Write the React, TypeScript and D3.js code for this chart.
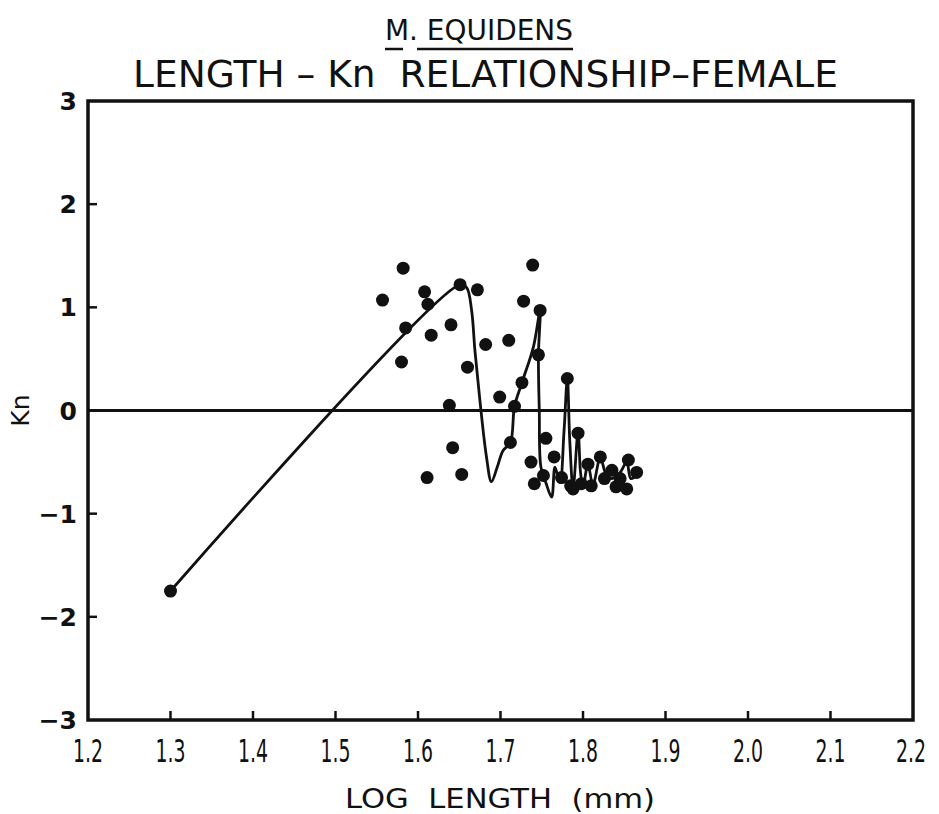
import React from 'react';
import * as d3 from 'd3';

const xTicks = [1.2, 1.3, 1.4, 1.5, 1.6, 1.7, 1.8, 1.9, 2.0, 2.1, 2.2];
const xTickLabels = ['1.2', '1.3', '1.4', '1.5', '1.6', '1.7', '1.8', '1.9', '2.0', '2.1', '2.2'];
const yTicks = [-3, -2, -1, 0, 1, 2, 3];
const yTickLabels = ['\u22123', '\u22122', '\u22121', '0', '1', '2', '3'];

const dotX = [1.300, 1.557, 1.582, 1.608, 1.612, 1.585, 1.616, 1.640, 1.580, 1.651, 1.672, 1.682, 1.660, 1.710, 1.728, 1.739, 1.748, 1.746, 1.726, 1.699, 1.717, 1.638, 1.642, 1.712, 1.611, 1.653, 1.737, 1.755, 1.741, 1.752, 1.765, 1.774, 1.781, 1.785, 1.788, 1.794, 1.798, 1.806, 1.810, 1.821, 1.826, 1.835, 1.840, 1.845, 1.855, 1.853, 1.865];
const dotY = [-1.75, 1.07, 1.38, 1.15, 1.03, 0.80, 0.73, 0.83, 0.47, 1.22, 1.17, 0.64, 0.42, 0.68, 1.06, 1.41, 0.97, 0.54, 0.27, 0.13, 0.04, 0.05, -0.36, -0.31, -0.65, -0.62, -0.50, -0.27, -0.71, -0.63, -0.45, -0.65, 0.31, -0.73, -0.76, -0.22, -0.71, -0.52, -0.73, -0.45, -0.66, -0.58, -0.74, -0.66, -0.48, -0.76, -0.60];

const lineX = [1.300, 1.651, 1.659, 1.665, 1.669, 1.675, 1.683, 1.689, 1.696, 1.703, 1.712, 1.717, 1.726, 1.740, 1.748, 1.746, 1.747, 1.749, 1.755, 1.762, 1.766, 1.772, 1.777, 1.781, 1.784, 1.788, 1.794, 1.797, 1.800, 1.806, 1.812, 1.821, 1.828, 1.835, 1.845, 1.853, 1.858, 1.866];
const lineY = [-1.75, 1.22, 1.19, 0.97, 0.58, 0.10, -0.45, -0.69, -0.55, -0.39, -0.31, 0.04, 0.27, 0.62, 0.97, 0.54, 0.0, -0.55, -0.70, -0.84, -0.55, -0.70, -0.20, 0.31, -0.30, -0.75, -0.21, -0.60, -0.74, -0.52, -0.72, -0.46, -0.62, -0.66, -0.60, -0.50, -0.66, -0.62];

const W = 939;
const H = 814;
const L = 88, R = 913, T = 101, B = 720;
const FONT = "'DejaVu Sans', sans-serif";

export default function App() {
  const x = d3.scaleLinear().domain([1.2, 2.2]).range([L, R]);
  const y = d3.scaleLinear().domain([-3, 3]).range([B, T]);
  const pts: [number, number][] = lineX.map((v, i) => [x(v), y(lineY[i])]);
  const path = d3.line().curve(d3.curveCatmullRom.alpha(0.5))(pts) || '';

  return (
    <svg width={W} height={H} viewBox={`0 0 ${W} ${H}`} style={{ position: 'absolute', left: 0, top: 0, background: '#fff' }}>
      <rect x={0} y={0} width={W} height={H} fill="#fff" />
      {/* titles */}
      <text x={385} y={40} fontFamily={FONT} fontSize={29} fill="#111" textLength={188} lengthAdjust="spacingAndGlyphs" xmlSpace="preserve" style={{ whiteSpace: 'pre' }}>M. EQUIDENS</text>
      <line x1={385} x2={403} y1={49} y2={49} stroke="#111" strokeWidth={2.5} />
      <line x1={417} x2={573} y1={49} y2={49} stroke="#111" strokeWidth={2.5} />
      <text x={133} y={87} fontFamily={FONT} fontSize={38} fill="#111" textLength={705} lengthAdjust="spacingAndGlyphs" xmlSpace="preserve" style={{ whiteSpace: 'pre' }}>LENGTH – Kn  RELATIONSHIP–FEMALE</text>

      {/* zero line */}
      <line x1={L} x2={R} y1={y(0)} y2={y(0)} stroke="#111" strokeWidth={3} />

      {/* ticks */}
      {xTicks.slice(1, -1).map((t) => (
        <line key={'xt' + t} x1={x(t)} x2={x(t)} y1={B} y2={B - 9} stroke="#111" strokeWidth={2.5} />
      ))}
      {yTicks.filter((t) => t !== 0 && Math.abs(t) !== 3).map((t) => (
        <line key={'yt' + t} x1={L} x2={L + 9} y1={y(t)} y2={y(t)} stroke="#111" strokeWidth={2.5} />
      ))}

      {/* frame */}
      <rect x={L} y={T} width={R - L} height={B - T} fill="none" stroke="#111" strokeWidth={3.5} />

      {/* tick labels */}
      {xTicks.map((t, i) => (
        <text key={'xl' + t} x={i === xTicks.length - 1 ? x(t) + 13 : x(t)} y={762} textAnchor={i === xTicks.length - 1 ? 'end' : 'middle'} fontFamily={FONT} fontSize={32} fill="#111" textLength={30} lengthAdjust="spacingAndGlyphs">{xTickLabels[i]}</text>
      ))}
      {yTicks.map((t, i) => (
        <text key={'yl' + t} x={77} y={y(t) + 9} textAnchor="end" fontFamily={FONT} fontSize={25} fontWeight="bold" fill="#111">{yTickLabels[i]}</text>
      ))}

      {/* axis titles */}
      <text x={345} y={808} fontFamily={FONT} fontSize={27} fill="#111" textLength={310} lengthAdjust="spacingAndGlyphs" xmlSpace="preserve" style={{ whiteSpace: 'pre' }}>LOG  LENGTH  (mm)</text>
      <text transform={`translate(29, ${y(0)}) rotate(-90)`} textAnchor="middle" fontFamily={FONT} fontSize={25} fill="#111">Kn</text>

      {/* curve */}
      <path d={path} fill="none" stroke="#111" strokeWidth={2.8} strokeLinejoin="round" />

      {/* dots */}
      {dotX.map((v, i) => (
        <circle key={'d' + i} cx={x(v)} cy={y(dotY[i])} r={6.5} fill="#111" />
      ))}
    </svg>
  );
}
